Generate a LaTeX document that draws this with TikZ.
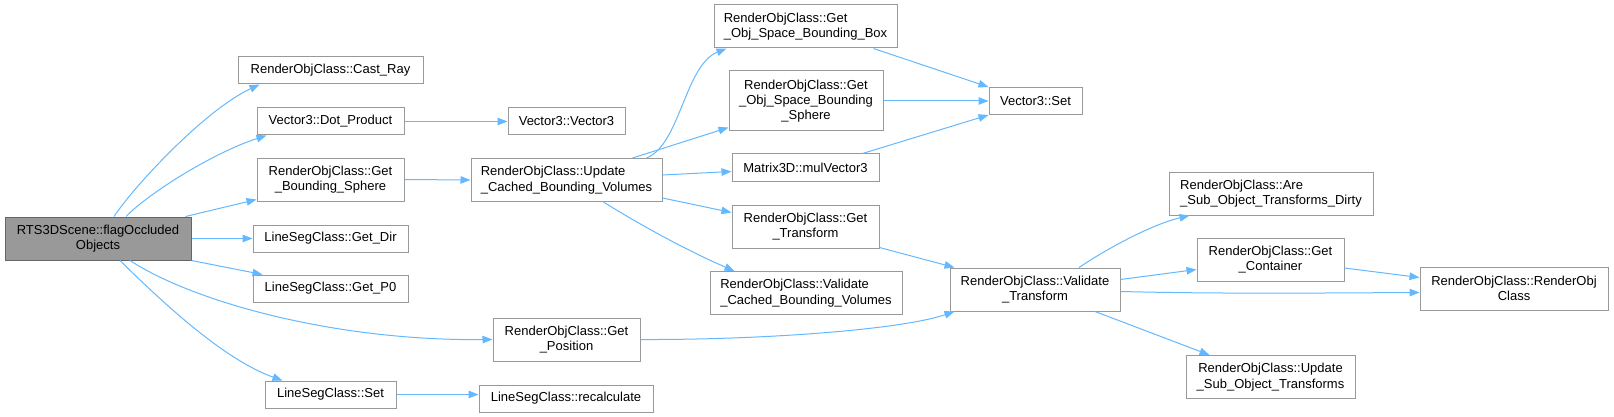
\documentclass[tikz,border=0pt]{standalone}
\usepackage{fontspec}
\setmainfont{Liberation Sans}
\usepackage{tikz}
\usetikzlibrary{arrows.meta,calc}
\usepackage{xcolor}
\definecolor{callblue}{HTML}{63B8FF}
\definecolor{boxgray}{HTML}{999999}
\definecolor{rootgray}{HTML}{666666}

\begin{document}
\begin{tikzpicture}[x=1pt, y=-1pt, line width=1pt,
    fn/.style={draw=boxgray, fill=white, inner sep=0pt, minimum height=27, align=center,
      font=\fontsize{13}{15.3}\selectfont},
    fnl/.style={fn, align=left},
    rootfn/.style={fn, fill=boxgray, draw=rootgray},
    call/.style={draw=callblue, -{Triangle[length=10pt,width=7.5pt]}, fill=none}]
    \useasboundingbox (0,0) rectangle (1614,417);
    \node[rootfn, minimum width=186, minimum height=43] (root) at (98,238.5) {RTS3DScene::flagOccluded\\Objects};
    \node[fn, minimum width=185] (cast) at (330.5,70.5) {RenderObjClass::Cast\_Ray};
    \node[fn, minimum width=147] (dot) at (330.5,121.5) {Vector3::Dot\_Product};
    \node[fn, minimum width=147, minimum height=43] (gbs) at (330.5,179.5) {RenderObjClass::Get\\\_Bounding\_Sphere};
    \node[fn, minimum width=155] (getdir) at (330.5,238.5) {LineSegClass::Get\_Dir};
    \node[fn, minimum width=155] (getp0) at (330.5,288.5) {LineSegClass::Get\_P0};
    \node[fn, minimum width=131] (lsset) at (330.5,394.5) {LineSegClass::Set};
    \node[fn, minimum width=117] (vctor) at (566.5,121.5) {Vector3::Vector3};
    \node[fnl, minimum width=191, minimum height=43] (ucbv) at (566.5,180) {RenderObjClass::Update\\\_Cached\_Bounding\_Volumes};
    \node[fn, minimum width=147, minimum height=43] (getpos) at (566.5,339.5) {RenderObjClass::Get\\\_Position};
    \node[fn, minimum width=174] (recalc) at (566,398.5) {LineSegClass::recalculate};
    \node[fnl, minimum width=183, minimum height=43] (gosbb) at (805.5,26.5) {RenderObjClass::Get\\\_Obj\_Space\_Bounding\_Box};
    \node[fn, minimum width=154, minimum height=60] (gosbs) at (806,101) {RenderObjClass::Get\\\_Obj\_Space\_Bounding\\\_Sphere};
    \node[fn, minimum width=147] (mulv) at (805.5,167.5) {Matrix3D::mulVector3};
    \node[fn, minimum width=147, minimum height=43] (gettr) at (805.5,226.5) {RenderObjClass::Get\\\_Transform};
    \node[fnl, minimum width=192, minimum height=43] (vcbv) at (806,293) {RenderObjClass::Validate\\\_Cached\_Bounding\_Volumes};
    \node[fn, minimum width=93] (vset) at (1035.5,101) {Vector3::Set};
    \node[fn, minimum width=170, minimum height=43] (vtr) at (1035,289.5) {RenderObjClass::Validate\\\_Transform};
    \node[fnl, minimum width=204, minimum height=43] (arsub) at (1271,193.5) {RenderObjClass::Are\\\_Sub\_Object\_Transforms\_Dirty};
    \node[fn, minimum width=147, minimum height=43] (getcont) at (1270.5,259.5) {RenderObjClass::Get\\\_Container};
    \node[fn, minimum width=169, minimum height=43] (updsub) at (1270.5,377) {RenderObjClass::Update\\\_Sub\_Object\_Transforms};
    \node[fn, minimum width=188, minimum height=43] (roclass) at (1514,288.5) {RenderObjClass::RenderObj\\Class};

    \draw[call] ([xshift=16pt]root.north) .. controls (135,185) and (205,110) .. ([xshift=22pt]cast.south west);
    \draw[call] ([xshift=28pt]root.north) .. controls (150,192) and (215,152) .. ([xshift=10pt]dot.south west);
    \draw[call] ([xshift=-6pt]root.north east) -- ([yshift=2pt]gbs.south west);
    \draw[call] (root.east) -- (getdir.west);
    \draw[call] (root.south east) -- ([xshift=10pt]getp0.north west);
    \draw[call] ([xshift=32pt]root.south) .. controls (190,300) and (330,341) .. (getpos.west);
    \draw[call] ([xshift=22pt]root.south) .. controls (165,305) and (225,360) .. ([xshift=18pt]lsset.north west);
    \draw[call] (dot.east) -- (vctor.west);
    \draw[call] (gbs.east) -- (ucbv.west);
    \draw[call] (lsset.east) -- (lsset.east -| recalc.west);
    \draw[call] ([xshift=80pt]ucbv.north) .. controls (680,145) and (685,65) .. ([xshift=13pt]gosbb.south west);
    \draw[call] ([xshift=66pt]ucbv.north) -- ([yshift=4pt]gosbs.south west);
    \draw[call] ([yshift=5pt]ucbv.east) -- ([yshift=-4pt]mulv.west);
    \draw[call] ([yshift=-18pt]ucbv.east) -- ([yshift=14pt]gettr.west);
    \draw[call] ([xshift=37pt]ucbv.south) .. controls (640,225) and (690,252) .. ([xshift=25pt]vcbv.north west);
    \draw[call] ([xshift=-24pt]gosbb.south east) -- (vset.north west);
    \draw[call] (gosbs.east) -- (vset.west);
    \draw[call] ([xshift=-17pt]mulv.north east) -- (vset.south west);
    \draw[call] ([yshift=1pt]gettr.south east) -- ([xshift=5pt]vtr.north west);
    \draw[call] (getpos.east) .. controls (760,340) and (900,330) .. ([xshift=5pt]vtr.south west);
    \draw[call] ([xshift=44pt]vtr.north) .. controls (1105,250) and (1150,225) .. ([xshift=21pt]arsub.south west);
    \draw[call] ([yshift=10pt]vtr.east) -- ([yshift=-10pt]getcont.west);
    \draw[call] ([yshift=-2pt]vtr.east) .. controls (1220,294) and (1320,293) .. ([yshift=-4pt]roclass.west);
    \draw[call] ([yshift=-8.5pt]getcont.east) -- ([yshift=11pt]roclass.west);
    \draw[call] ([xshift=60pt]vtr.south) -- ([xshift=24pt]updsub.north west);
  \end{tikzpicture}
\end{document}
